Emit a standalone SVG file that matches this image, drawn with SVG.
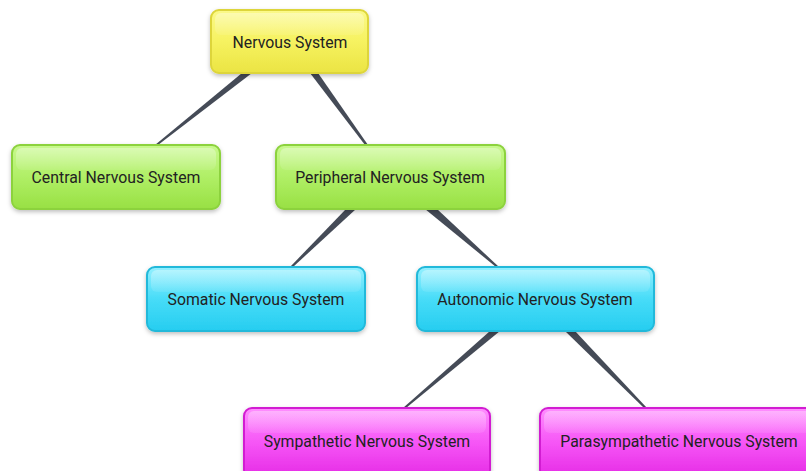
<svg xmlns="http://www.w3.org/2000/svg" width="806" height="471" viewBox="0 0 806 471">
<defs>
<linearGradient id="gY" x1="0" y1="0" x2="0" y2="1"><stop offset="0" stop-color="#fbf98a"/><stop offset="0.5" stop-color="#f6f260"/><stop offset="1" stop-color="#ebe443"/></linearGradient>
<linearGradient id="gG" x1="0" y1="0" x2="0" y2="1"><stop offset="0" stop-color="#c8f98e"/><stop offset="0.5" stop-color="#b0ef66"/><stop offset="1" stop-color="#98e043"/></linearGradient>
<linearGradient id="gC" x1="0" y1="0" x2="0" y2="1"><stop offset="0" stop-color="#94f0ff"/><stop offset="0.5" stop-color="#47dcf8"/><stop offset="1" stop-color="#26cdf0"/></linearGradient>
<linearGradient id="gM" x1="0" y1="0" x2="0" y2="1"><stop offset="0" stop-color="#ff8eff"/><stop offset="0.5" stop-color="#f655f6"/><stop offset="1" stop-color="#e52ae5"/></linearGradient>
<linearGradient id="gl" x1="0" y1="0" x2="0" y2="1"><stop offset="0" stop-color="#ffffff" stop-opacity="0.35"/><stop offset="1" stop-color="#ffffff" stop-opacity="0.08"/></linearGradient>
<filter id="sh" x="-10%" y="-10%" width="120%" height="130%"><feDropShadow dx="0" dy="2" stdDeviation="2" flood-color="#000" flood-opacity="0.25"/></filter>
</defs>
<style>
.box{stroke-width:2;filter:url(#sh)}
.y{fill:url(#gY);stroke:#ddd53a}
.g{fill:url(#gG);stroke:#8cd23d}
.c{fill:url(#gC);stroke:#22b9da}
.m{fill:url(#gM);stroke:#d21fd2}
.gl{fill:url(#gl)}
text{font-family:Roboto,"Liberation Sans",sans-serif;font-size:15.8px;fill:#222;text-anchor:middle;dominant-baseline:central}
.w{fill:#454b57}
</style>
<g id="connectors">
<polygon class="w" points="242,73 252,73 158,145 155,145"/>
<polygon class="w" points="310,73 318,73 368,145 365,145"/>
<polygon class="w" points="346,209 356,209 293,267 290,267"/>
<polygon class="w" points="425,209 437,209 499,267 496,267"/>
<polygon class="w" points="490,331 500,331 406,408 403,408"/>
<polygon class="w" points="565,331 575,331 647,408 644,408"/>
</g>
<g id="n-nervous">
<rect class="box y" x="211" y="10" width="157" height="63" rx="8"/>
<rect class="gl" x="215" y="13" width="149" height="22" rx="6"/>
<text x="290" y="42">Nervous System</text>
</g>
<g id="n-central">
<rect class="box g" x="12" y="145" width="208" height="64" rx="8"/>
<rect class="gl" x="16" y="148" width="200" height="22" rx="6"/>
<text x="116" y="177">Central Nervous System</text>
</g>
<g id="n-peripheral">
<rect class="box g" x="276" y="145" width="229" height="64" rx="8"/>
<rect class="gl" x="280" y="148" width="221" height="22" rx="6"/>
<text x="390" y="177">Peripheral Nervous System</text>
</g>
<g id="n-somatic">
<rect class="box c" x="147" y="267" width="218" height="64" rx="8"/>
<rect class="gl" x="151" y="270" width="210" height="22" rx="6"/>
<text x="256" y="299">Somatic Nervous System</text>
</g>
<g id="n-autonomic">
<rect class="box c" x="417" y="267" width="237" height="64" rx="8"/>
<rect class="gl" x="421" y="270" width="229" height="22" rx="6"/>
<text x="535" y="299">Autonomic Nervous System</text>
</g>
<g id="n-sympathetic">
<rect class="box m" x="244" y="408" width="246" height="70" rx="8"/>
<rect class="gl" x="248" y="411" width="238" height="22" rx="6"/>
<text x="367" y="441">Sympathetic Nervous System</text>
</g>
<g id="n-parasympathetic">
<rect class="box m" x="540" y="408" width="275" height="70" rx="8"/>
<rect class="gl" x="544" y="411" width="267" height="22" rx="6"/>
<text x="679" y="441">Parasympathetic Nervous System</text>
</g>
</svg>
